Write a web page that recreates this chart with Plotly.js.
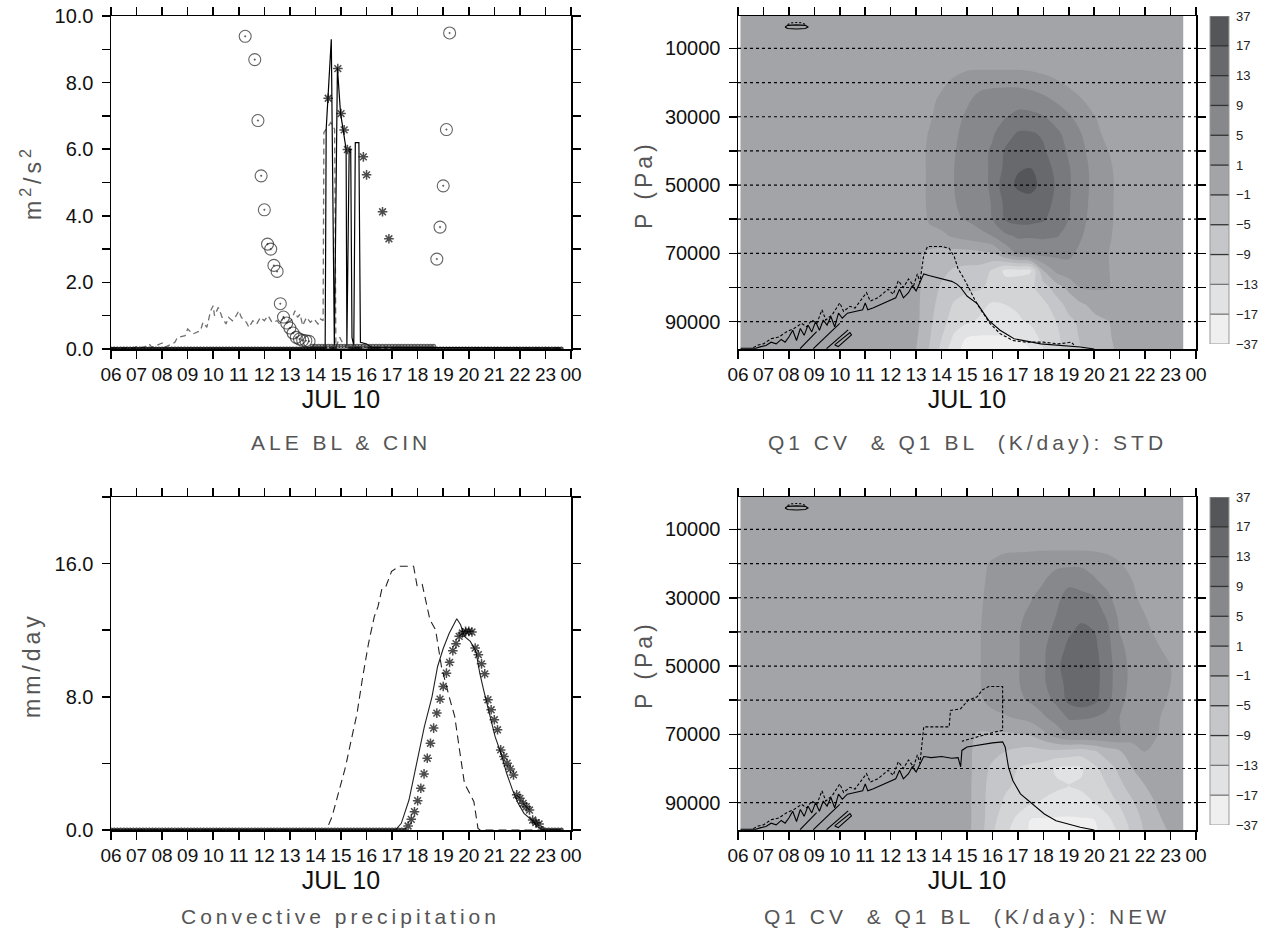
<!DOCTYPE html>
<html>
<head>
<meta charset="utf-8">
<script src="https://cdn.plot.ly/plotly-3.0.1.min.js"></script>
<style>
  html, body { margin: 0; padding: 0; background: #fff; }
  #chart { width: 1267px; height: 941px; }
  .annotation-text { letter-spacing: 4px; }
</style>
</head>
<body>
<div id="chart"></div>
<script>
// hours on the time axis
const hourTicks  = [6, 7, 8, 9, 10, 11, 12, 13, 14, 15, 16, 17, 18, 19, 20, 21, 22, 23, 24];
const hourLabels = ['06','07','08','09','10','11','12','13','14','15','16','17','18','19','20','21','22','23','00'];

// marker series are sampled every 7.5 min from 06:00
const tStart = 6, tStep = 0.125;

// ALE BL (stars), one value per step
const aleStars = [
  0,0,0,0,0,0,0,0,  0,0,0,0,0,0,0,0,  0,0,0,0,0,0,0,0,  0,0,0,0,0,0,0,0,
  0,0,0,0,0,0,0,0,  0,0,0,0,0,0,0,0,  0,0,0,0,0,0,0,0,  0,0,0,0,0,0,0,0,
  0,0,0,0,7.53,0,0,8.42,  7.07,6.58,5.99,0,0,0,0,5.77,  5.23,0,0,0,0,4.12,0,3.31,
  0,0,0,0,0,0,0,0,  0,0,0,0,0,0,0,0,  0,0,0,0,0,0,0,0,  0,0,0,0,0,0,0,0,
  0,0,0,0,0,0,0,0,  0,0,0,0,0,0,0,0,  0,0,0,0,0,0
];
// CIN (circles), null = off the chart
const cinCircles = [
  null,null,null,null,null,null,null,null,  null,null,null,null,null,null,null,null,
  null,null,null,null,null,null,null,null,  null,null,null,null,null,null,null,null,
  null,null,null,null,null,null,null,null,
  null,null,9.39,null,null,8.69,6.86,5.20,  4.18,3.15,3.00,2.51,2.33,1.36,0.96,0.78,
  0.63,0.48,0.35,0.30,0.26,0.25,0.23,0.08,
  0.08,0.08,0.08,0.08,0.08,0.08,0.08,0.08,  0.08,0.08,0.08,0.08,0.08,0.08,0.08,0.08,
  0.08,0.08,0.08,0.08,0.08,0.08,0.08,0.08,  0.08,0.08,0.08,0.08,0.08,0.08,0.08,0.08,
  0.08,0.08,0.08,0.08,0.08,0.08,2.70,3.66,  4.90,6.59,9.49,null,null,null,null,null,
  null,null,null,null,null,null,null,null,  null,null,null,null,null,null,null,null,
  null,null,null,null,null,null,null,null,  null,null,null,null,null,null
];
// ALE lines
const aleSolidT = [6.0, 14.38, 14.42, 14.62, 14.74, 14.86, 14.98, 15.1, 15.2, 15.23, 15.32, 15.38, 15.43, 15.5, 15.56, 15.7, 15.76, 16.0, 16.2, 23.6];
const aleSolidV = [0.03, 0.03, 6.6, 9.3, 0.1, 8.45, 7.1, 6.55, 6.0, 0.1, 6.0, 6.0, 0.35, 0.1, 6.2, 6.2, 0.2, 0.15, 0.05, 0.03];
const aleDashT = [6.0, 6.9, 7.0, 7.25, 7.5, 7.6, 8.0, 8.1, 8.5, 8.6, 8.9, 9.0, 9.2, 9.5, 9.6, 9.75, 9.9, 10.0, 10.05, 10.2,
  10.35, 10.5, 10.6, 10.75, 10.9, 11.0, 11.1, 11.3, 11.4, 11.55, 11.7, 11.85, 12.0, 12.15, 12.3, 12.5, 12.6, 12.75, 12.9, 13.05,
  13.2, 13.3, 13.4, 13.5, 13.65, 13.8, 13.95, 14.1, 14.2, 14.3, 14.33, 14.6, 14.75, 14.8, 14.95, 15.05, 15.2, 16.0, 23.6];
const aleDashV = [0.03, 0.03, 0.08, 0.04, 0.15, 0.05, 0.18, 0.05, 0.2, 0.35, 0.4, 0.6, 0.45, 0.55, 0.8, 0.65, 1.15, 1.3, 1.0, 1.25,
  0.95, 0.75, 0.95, 0.85, 1.0, 1.15, 0.95, 0.8, 0.65, 0.85, 0.75, 0.95, 0.85, 1.0, 0.8, 0.85, 0.75, 0.95, 0.8, 0.85,
  1.15, 0.95, 1.05, 0.7, 0.95, 0.8, 0.9, 0.75, 0.9, 0.85, 6.5, 6.8, 6.6, 0.05, 0.35, 0.2, 0.05, 0.05, 0.03];

// convective precipitation (mm/day)
const precipStars = [
  0,0,0,0,0,0,0,0,  0,0,0,0,0,0,0,0,  0,0,0,0,0,0,0,0,  0,0,0,0,0,0,0,0,
  0,0,0,0,0,0,0,0,  0,0,0,0,0,0,0,0,  0,0,0,0,0,0,0,0,  0,0,0,0,0,0,0,0,
  0,0,0,0,0,0,0,0,  0,0,0,0,0,0,0,0,  0,0,0,0,0,0,0,0,
  0,0,0,0,0,0.24,0.64,1.10,  1.76,2.51,3.37,4.31,5.21,6.12,7.02,7.86,
  8.62,9.42,10.07,10.77,11.19,11.63,11.83,11.93,  11.93,11.89,10.93,10.53,9.98,9.38,7.82,7.22,
  6.62,6.02,4.81,4.41,4.01,3.67,3.31,2.11,  1.90,1.60,1.40,1.20,0.60,0.44,0.36,0.10,
  0,0,0,0,0,0
];
const precipDashT = [6.0, 14.43, 14.65, 14.9, 15.18, 15.4, 15.63, 15.85, 16.08, 16.3, 16.45, 16.6, 16.75, 16.98, 17.28,
  17.84, 17.98, 18.18, 18.48, 18.7, 18.93, 19.23, 19.45, 19.6, 19.83, 20.2, 20.36, 20.45, 23.6];
const precipDashV = [0, 0, 0.8, 2.2, 3.81, 5.4, 7.02, 9.2, 11.23, 12.8, 13.43, 14.48, 14.6, 15.54, 15.84,
  15.84, 14.64, 14.74, 12.63, 12.03, 9.82, 8.02, 6.82, 5.21, 2.81, 1.7, 0.1, 0, 0];
const precipSolidT = [6.0, 17.13, 17.36, 17.66, 17.96, 18.26, 18.56, 18.78, 19.0, 19.23, 19.53, 19.68, 19.83, 20.06,
  20.28, 20.43, 20.58, 20.81, 21.03, 21.26, 21.48, 21.71, 21.93, 22.16, 22.46, 22.68, 22.9, 23.6];
const precipSolidV = [0, 0, 0.4, 1.8, 4.0, 6.2, 8.0, 9.82, 10.9, 11.8, 12.69, 12.33, 11.63, 11.33,
  10.73, 9.42, 8.42, 7.02, 5.61, 4.61, 3.41, 2.41, 1.6, 1.0, 0.6, 0.2, 0, 0];

// Q1 CV (K/day) on pressure levels
const presLevels = [0, 10000, 15000, 20000, 25000, 30000, 35000, 40000, 45000, 50000,
  55000, 60000, 65000, 70000, 75000, 80000, 85000, 90000, 95000, 98000];
const q1StdT = [6.1, 12.5, 13, 13.5, 14, 14.5, 15, 15.5, 16, 16.5, 17, 17.5, 18, 18.5, 19, 19.5, 20, 20.5, 21, 21.5, 23.5];
const q1Std = [
  [0,0,0,0,0,0,0,0,0,0,0,0,0,0,0,0,0,0,0,0,0],
  [0,0,0,0,0,0,0,0,0,0,0,0,0,0,0,0,0,0,0,0,0],
  [0,0,0,0,0,0,0.3,0.5,0.5,0.5,0.5,0.4,0.2,0,0,0,0,0,0,0,0],
  [0,0,0,0,0.5,2,4,4,4,4,4,3.5,2.5,1.5,0.6,0,0,0,0,0,0],
  [0,0,0,0.3,2,3.5,4.5,6,7,7.5,7.5,7,6,4.5,3,1.2,0.3,0,0,0,0],
  [0,0,0,0.7,2.5,4,5.5,7,8,8.8,10,10,9.2,7.5,5.5,3.5,1.2,0.3,0,0,0],
  [0,0,0,1.2,3,4.5,6,7.5,8.6,11,13.5,13.5,12.5,10,7.5,5,2,0.6,0,0,0],
  [0,0,0.2,1.5,3.2,4.8,6.5,7.8,9.5,13.5,15,15,13.5,11,8.5,6,3,1.2,0.3,0,0],
  [0,0,0.2,1.5,3.2,5,6.5,8,9.5,14,16.8,17,15,12,9.3,6.5,3.8,1.8,0.5,0,0],
  [0,0,0.2,1.5,3.2,5,6.5,8,9.5,16,19,19.5,16.5,12.5,9.5,6.5,4,2,0.6,0,0],
  [0,0,0.2,1.5,3,4.8,6.3,7.8,9.2,14,16,16.5,15,12,9.3,6.3,3.8,1.8,0.6,0,0],
  [0,0,0.2,1.2,2.5,4.5,5.3,7,9,13.3,14.5,14.5,13.5,11,9,6,3.5,1.8,0.6,0,0],
  [0,0,0,0.7,0.6,1.5,2.5,3.5,5,8,9.5,9.3,9.5,9.2,8,5.2,3,1.5,0.6,0,0],
  [0,0,-0.5,-2,-2.5,-2.5,-2.5,-2,-1.2,1.5,5.5,6.5,6.5,6,5.8,4,2.5,1.2,0.4,0,0],
  [0,0,-0.5,-2.5,-4,-5.5,-6,-6.5,-9.5,-14,-14,-13.5,-1,2,3.5,3,2,1.2,0.6,0,0],
  [0,0,-0.5,-3,-5.5,-7,-8,-8.5,-10,-11,-11,-10,-7,-3,-0.5,1.3,1.5,1.2,0.6,0,0],
  [0,0,-0.5,-3.5,-6.5,-9.5,-11,-12,-13.5,-13,-12.5,-12,-10,-7,-3.5,-1.5,-0.5,0,0,0,0],
  [0,0,-0.5,-4,-7.5,-11,-12.5,-13.5,-14,-14,-13.5,-12.5,-11,-9,-6,-4,-2,-1.2,-0.5,0,0],
  [0,0,-0.8,-4.5,-9,-14,-19,-21,-21,-20,-18,-15,-12,-10,-7,-4.5,-2.5,-1.5,-0.6,0,0],
  [0,0,-1,-5,-10,-16,-22,-24,-24,-23,-20,-17,-13,-10,-7,-5,-2.5,-1.5,-0.8,-0.3,0]
];
const q1NewT = [6.1, 14.5, 15, 15.5, 16, 16.5, 17, 17.5, 18, 18.5, 19, 19.5, 20, 20.5, 21, 21.5, 22, 22.5, 23, 23.5];
const q1New = [
  [0,0,0,0,0,0,0,0,0,0,0,0,0,0,0,0,0,0,0,0],
  [0,0,0,0,0,0,0,0,0,0,0,0,0,0,0,0,0,0,0,0],
  [0,0,0,0,0.2,0.5,0.5,0.5,0.5,0.5,0.5,0.5,0.5,0.4,0.2,0,0,0,0,0],
  [0,0,0,0.5,1.5,2.5,3,3.5,4,4.2,4.2,4.2,3.5,2.5,1.2,0.5,0,0,0,0],
  [0,0,0,0.6,2,3,3.8,4.3,4.8,6.5,8,7.5,5.5,3.8,2,1,0.4,0,0,0],
  [0,0,0,0.7,2.5,3.5,4.2,4.8,6,8,10.5,10,9.5,6,3,1.5,0.6,0.2,0,0],
  [0,0,0.2,0.8,2.8,3.8,4.5,5.5,7.5,9,11.5,12,11,8.5,4,2,1,0.4,0,0],
  [0,0,0.2,0.9,3,4,4.8,6,8,9.8,12.5,14,13,10,5,2.8,1.5,0.8,0.3,0],
  [0,0,0.2,0.9,3,4,4.8,6.2,8.5,11,14,15.5,14,10.5,6,3.5,2,1.2,0.7,0.2],
  [0,0,0.2,0.9,3,4,4.8,6.3,8.5,11.5,16,18,14.5,11,6.5,4,2.5,1.5,1,0.3],
  [0,0,0.2,0.9,3,4,4.8,6.2,8.5,11,14.5,16,14.5,11,6.5,4,2.5,1.5,1,0.3],
  [0,0,0.2,0.8,2,3,4.2,5.5,7,10,14,15.5,14,10.5,6,3.5,2.3,1.4,0.9,0.3],
  [0,0,0,0.3,0.5,0.8,1.5,2.5,4.5,6.5,9.5,9.5,9,8,5,3,2,1.2,0.6,0.2],
  [0,0,-0.5,-1.5,-1.5,-1.5,-1.2,-0.8,0.5,3,5.5,5.5,5.5,5.2,5,2,1.5,1,0.5,0.1],
  [0,0,-0.5,-2.5,-3.5,-5,-6,-6.5,-6,-6,-6.5,-7,-5.5,-3,-1.5,0.5,1,0.5,0.2,0],
  [0,0,-0.5,-2.5,-6,-7.5,-9,-10,-11,-13.5,-14,-13.5,-10,-7,-4,-1,0.5,0.3,0,0],
  [0,0,-0.5,-3,-7,-8.5,-9.5,-10.5,-11.5,-12.5,-13,-12.5,-11,-9,-6,-3,-1,-0.3,0,0],
  [0,0,-0.5,-3,-7.5,-9.5,-11,-12.5,-13.5,-14,-14.5,-14,-13,-11,-8.5,-5.5,-2.5,-0.8,0,0],
  [0,0,-0.5,-3,-8,-11,-14,-17.5,-19,-20,-20,-19,-17,-14,-11,-7,-4,-1.5,-0.5,0],
  [0,0,-0.5,-3.2,-8.5,-12,-15,-19,-22,-24,-24,-22,-19.5,-15.5,-12,-8,-4.5,-2,-0.8,-0.2]
];
const shadeLevels = [-37, -17, -13, -9, -5, -1, 1, 5, 9, 13, 17, 37];
const shadeLabels = ['\u221237','\u221217','\u221213','\u22129','\u22125','\u22121','1','5','9','13','17','37'];
const shadeColors = ['#efeff0','#e1e2e4','#d3d4d6','#c5c6c9','#b6b7ba','#a3a4a8','#96979b','#87888c','#78797d','#68696d','#555659'];
const shadeBins = [0, 1, 2, 3, 4, 5, 6, 7, 8, 9, 10];

// Q1 BL contour lines (time h, pressure Pa)
const blRiseT = [6.1, 6.7, 6.9, 7.1, 7.3, 7.5, 7.7, 7.85, 8.0, 8.15, 8.3, 8.45, 8.6, 8.75, 8.9, 9.05, 9.2, 9.35, 9.5, 9.65,
  9.8, 9.95, 10.1, 10.3, 10.6, 10.9, 11.0, 11.1, 11.3, 11.6, 11.9, 12.2, 12.35, 12.5, 12.7, 12.85, 13.0, 13.15];
const blRiseP = [97800, 97800, 97300, 97000, 96000, 96500, 95200, 96000, 94500, 92500, 95500, 92000, 94000, 91000, 93000, 90000, 92500, 89500, 91000, 88500,
  91500, 87500, 89000, 87500, 87000, 86500, 84500, 86500, 86000, 85000, 84000, 83000, 80500, 83000, 81500, 79500, 81000, 78500];
const blRiseDashT = [6.6, 6.8, 7.0, 7.3, 7.6, 7.9, 8.2, 8.5, 8.7, 8.9, 9.1, 9.3, 9.45, 9.7, 10.0, 10.15, 10.4, 10.6, 10.8, 11.05,
  11.2, 11.5, 11.9, 12.1, 12.3, 12.5, 12.7, 12.9, 13.05, 13.15];
const blRiseDashP = [97600, 96800, 96500, 95000, 94500, 93000, 92000, 90500, 91500, 89500, 90500, 86500, 89500, 88000, 84500, 87000, 85500, 86000, 84000, 81500,
  84000, 83000, 80500, 82000, 78000, 80000, 77500, 79500, 76000, 78500];
const blStdSolidT = [13.3, 13.5, 13.8, 14.1, 14.4, 14.6, 14.75, 15.0, 15.4, 15.85, 16.3, 16.85, 17.9, 19.45, 20.0];
const blStdSolidP = [76000, 76500, 77000, 77500, 78200, 79000, 80000, 82500, 84700, 89600, 92500, 95000, 96500, 97400, 98000];
const blStdDashT = [13.3, 13.45, 14.0, 14.3, 14.5, 14.65, 14.85, 15.0, 15.1, 15.3, 15.5, 15.9, 16.3, 16.8, 17.3, 18.0, 18.6, 19.1, 19.2];
const blStdDashP = [70500, 68000, 68000, 68500, 71000, 74500, 77000, 79000, 80500, 83500, 86000, 90500, 93500, 95500, 96000, 96000, 96500, 96000, 96800];
const blNewSolidT = [13.3, 13.6, 14.0, 14.4, 14.65, 14.75, 14.8, 15.0, 15.5, 16.0, 16.4, 16.5, 16.63, 16.8, 17.1, 17.57, 18.04, 18.5, 19.45, 20.0];
const blNewSolidP = [76500, 76800, 76500, 77000, 76800, 79500, 74700, 73700, 73000, 72500, 72200, 73700, 79600, 83500, 87400, 90400, 93300, 95300, 97200, 98000];
const blNewDashT = [13.3, 14.3, 14.35, 14.75, 15.05, 15.4, 15.6, 15.85, 16.4, 16.4, 16.0, 15.4, 15.05, 14.8];
const blNewDashP = [67800, 67800, 63000, 62500, 60000, 59000, 57000, 56000, 56000, 68800, 69500, 70700, 71500, 72000];
const blLoopsT = [8.44, 9.09, null, 8.96, 10.0, null, 9.48, 10.33, null, 9.8, 10.4, 10.46, 9.94, 9.8];
const blLoopsP = [97900, 92900, null, 97900, 90500, null, 97900, 92400, null, 96800, 93200, 93900, 97300, 96800];
const ringT = [7.85, 7.95, 8.3, 8.65, 8.75, 8.65, 8.3, 7.95, 7.85];
const ringP = [3700, 3250, 3100, 3250, 3700, 4150, 4300, 4150, 3700];
const ringDashT = [7.95, 8.1, 8.3, 8.5, 8.65];
const ringDashP = [3000, 2500, 2400, 2500, 3000];

// axis ticks: labelled and unlabelled positions
const aleTicks = [0, 2, 4, 6, 8, 10], aleLabels = ['0.0', '2.0', '4.0', '6.0', '8.0', '10.0'], aleMinor = [1, 3, 5, 7, 9];
const precipTicks = [0, 8, 16], precipLabels = ['0.0', '8.0', '16.0'], precipMinor = [4, 12, 20];
const pTicks  = [10000, 30000, 50000, 70000, 90000];
const pLabels = ['10000', '30000', '50000', '70000', '90000'];
const pMinor  = [20000, 40000, 60000, 80000];
const pGrid   = [10000, 20000, 30000, 40000, 50000, 60000, 70000, 80000, 90000];

const FONT = 'Liberation Sans, Arial, sans-serif';
const W = 1267, H = 941;

// panel frames in pixels
const leftX = [111 / W, 571 / W];
const rightX = [738 / W, 1196 / W];
const topY = [1 - 349 / H, 1 - 16 / H];
const botY = [1 - 830 / H, 1 - 497 / H];
const barX = [1210 / W, 1229 / W];
const topBarY = [1 - 344 / H, 1 - 16 / H];
const botBarY = [1 - 825 / H, 1 - 497 / H];

const timeGrid = aleStars.map((_, i) => tStart + i * tStep);
const sizes = (vals, big) => vals.map(v => v === null ? 0 : (v < 0.15 ? 4 : big));

// map K/day onto the equal-height shading bins
function toBin(v) {
  const L = shadeLevels;
  if (v <= L[0]) return 0;
  for (let k = 0; k < L.length - 1; k++) {
    if (v <= L[k + 1]) return k + (v - L[k]) / (L[k + 1] - L[k]);
  }
  return L.length - 1;
}
const binScale = shadeColors.map((c, i) => [i / (shadeColors.length - 1), c]);

function shadeTrace(xs, grid, xa, ya) {
  return {
    type: 'contour', x: xs, y: presLevels, z: grid.map(r => r.map(toBin)),
    xaxis: xa, yaxis: ya, autocontour: false,
    contours: { start: 1, end: 10, size: 1, coloring: 'fill', showlines: false },
    line: { width: 0, smoothing: 1 },
    colorscale: binScale, showscale: false, hoverinfo: 'skip'
  };
}

// the colour key, drawn as a one-column heatmap of the bins
function keyTrace(xa, ya) {
  return {
    type: 'heatmap', x: [0], y: shadeBins.map(b => b + 0.5), z: shadeBins.map(b => [b]),
    xaxis: xa, yaxis: ya, zmin: 0, zmax: shadeBins.length - 1,
    colorscale: binScale, showscale: false, hoverinfo: 'skip'
  };
}

function lineTrace(xs, ys, xa, ya, dash, color, width) {
  return {
    type: 'scatter', mode: 'lines', x: xs, y: ys, xaxis: xa, yaxis: ya,
    line: { color: color || '#000', width: width || 1.1, dash: dash || 'solid' },
    connectgaps: false, hoverinfo: 'skip', showlegend: false
  };
}

const data = [
  // ALE BL & CIN
  lineTrace(aleDashT, aleDashV, 'x', 'y', '6px,4px', '#707070', 1.3),
  lineTrace(aleSolidT, aleSolidV, 'x', 'y', 'solid', '#000', 1.2),
  { type: 'scatter', mode: 'markers', x: timeGrid, y: cinCircles, xaxis: 'x', yaxis: 'y',
    marker: { symbol: 'circle-open-dot', size: sizes(cinCircles, 12), color: '#222', line: { width: 1.1, color: '#222' } },
    hoverinfo: 'skip', showlegend: false },
  { type: 'scatter', mode: 'markers', x: timeGrid, y: aleStars, xaxis: 'x', yaxis: 'y',
    marker: { symbol: 'asterisk-open', size: sizes(aleStars, 8), color: '#000', line: { width: 1.5, color: '#000' } },
    hoverinfo: 'skip', showlegend: false },

  // convective precipitation
  lineTrace(precipDashT, precipDashV, 'x3', 'y3', '8px,5px', '#222', 1.1),
  lineTrace(precipSolidT, precipSolidV, 'x3', 'y3', 'solid', '#222', 1.1),
  { type: 'scatter', mode: 'markers', x: timeGrid, y: precipStars, xaxis: 'x3', yaxis: 'y3',
    marker: { symbol: 'asterisk-open', size: sizes(precipStars, 8), color: '#000', line: { width: 1.5, color: '#000' } },
    hoverinfo: 'skip', showlegend: false },

  // Q1 CV shading and colour keys
  shadeTrace(q1StdT, q1Std, 'x2', 'y2'),
  shadeTrace(q1NewT, q1New, 'x4', 'y4'),
  keyTrace('x5', 'y5'),
  keyTrace('x6', 'y6'),

  // Q1 BL lines, STD
  lineTrace(blRiseT.concat(blStdSolidT), blRiseP.concat(blStdSolidP), 'x2', 'y2'),
  lineTrace(blRiseDashT.concat(blStdDashT), blRiseDashP.concat(blStdDashP), 'x2', 'y2', '3px,2px'),
  lineTrace(blLoopsT, blLoopsP, 'x2', 'y2'),
  lineTrace(ringT, ringP, 'x2', 'y2'),
  lineTrace(ringDashT, ringDashP, 'x2', 'y2', '2px,2px'),

  // Q1 BL lines, NEW
  lineTrace(blRiseT.concat(blNewSolidT), blRiseP.concat(blNewSolidP), 'x4', 'y4'),
  lineTrace(blRiseDashT.concat(blNewDashT), blRiseDashP.concat(blNewDashP), 'x4', 'y4', '3px,2px'),
  lineTrace(blLoopsT, blLoopsP, 'x4', 'y4'),
  lineTrace(ringT, ringP, 'x4', 'y4'),
  lineTrace(ringDashT, ringDashP, 'x4', 'y4', '2px,2px')
];

function hourAxis(domain, anchor) {
  return {
    domain, anchor, range: [6, 24], tickvals: hourTicks, ticktext: hourLabels, tickangle: 0,
    ticks: 'outside', ticklen: 8, tickwidth: 1.5, tickcolor: '#000',
    showline: true, linewidth: 1.5, linecolor: '#000', mirror: 'ticks',
    showgrid: false, zeroline: false,
    tickfont: { family: FONT, size: 19, color: '#111' },
    title: { text: 'JUL 10', font: { family: FONT, size: 25, color: '#111' }, standoff: 5 }
  };
}

function valueAxis(domain, anchor, range, vals, labels, minorVals) {
  return {
    domain, anchor, range, tickvals: vals, ticktext: labels,
    ticks: 'outside', ticklen: 8, tickwidth: 1.5, tickcolor: '#000',
    minor: { tickmode: 'array', tickvals: minorVals, ticks: 'outside', ticklen: 8, tickwidth: 1.5, tickcolor: '#000', showgrid: false },
    showline: true, linewidth: 1.5, linecolor: '#000', mirror: 'ticks',
    showgrid: false, zeroline: false, ticklabelstandoff: 4,
    tickfont: { family: FONT, size: 20, color: '#111' }
  };
}

function keyXAxis(anchor) {
  return { domain: barX, anchor, range: [-0.5, 0.5], visible: false, fixedrange: true };
}
function keyYAxis(domain, anchor) {
  return {
    domain, anchor, side: 'right', range: [0, shadeBins.length],
    tickvals: shadeLevels.map((_, i) => i), ticktext: shadeLabels,
    ticks: '', showline: false, showgrid: false, zeroline: false, ticklabelstandoff: 6,
    tickfont: { family: FONT, size: 13, color: '#222' }
  };
}

const shapes = [];
// dotted pressure lines over the shading
[['x2', 'y2'], ['x4', 'y4']].forEach(([xa, ya]) => {
  pGrid.forEach(p => shapes.push({
    type: 'line', xref: xa + ' domain', x0: 0, x1: 1, yref: ya, y0: p, y1: p,
    line: { color: '#000', width: 1.2, dash: 'dot' }, layer: 'above'
  }));
});
// bin separators and outline of the colour keys
[['x5', 'y5'], ['x6', 'y6']].forEach(([xa, ya]) => {
  shadeBins.slice(1).forEach(b => shapes.push({
    type: 'line', xref: xa + ' domain', x0: 0, x1: 1, yref: ya, y0: b, y1: b,
    line: { color: b < 3 ? '#777' : '#333', width: 1.3 }, layer: 'above'
  }));
  shapes.push({
    type: 'rect', xref: xa + ' domain', x0: 0, x1: 1, yref: ya, y0: 0, y1: shadeBins.length,
    line: { color: '#999', width: 1 }, layer: 'above'
  });
});

const capFont = { family: FONT, size: 21, color: '#555' };
const sideFont = { family: FONT, size: 23, color: '#555' };
const note = (text, x, y, extra) => Object.assign({
  text, x, y, xref: 'paper', yref: 'paper', showarrow: false,
  xanchor: 'center', yanchor: 'middle', font: capFont
}, extra || {});

const layout = {
  width: W, height: H,
  margin: { l: 0, r: 0, t: 0, b: 0 },
  paper_bgcolor: '#fff', plot_bgcolor: '#fff',
  showlegend: false,
  xaxis: hourAxis(leftX, 'y'),
  yaxis: valueAxis(topY, 'x', [0, 10], aleTicks, aleLabels, aleMinor),
  xaxis2: hourAxis(rightX, 'y2'),
  yaxis2: valueAxis(topY, 'x2', [98000, 500], pTicks, pLabels, pMinor),
  xaxis3: hourAxis(leftX, 'y3'),
  yaxis3: valueAxis(botY, 'x3', [0, 20], precipTicks, precipLabels, precipMinor),
  xaxis4: hourAxis(rightX, 'y4'),
  yaxis4: valueAxis(botY, 'x4', [98000, 500], pTicks, pLabels, pMinor),
  xaxis5: keyXAxis('y5'),
  yaxis5: keyYAxis(topBarY, 'x5'),
  xaxis6: keyXAxis('y6'),
  yaxis6: keyYAxis(botBarY, 'x6'),
  shapes,
  annotations: [
    note('ALE BL &amp; CIN', (leftX[0] + leftX[1]) / 2, 1 - 443 / H),
    note('Convective precipitation', (leftX[0] + leftX[1]) / 2, 1 - 916 / H),
    note('Q1 CV&nbsp;&nbsp;&amp; Q1 BL&nbsp;&nbsp;(K/day): STD', (rightX[0] + rightX[1]) / 2, 1 - 443 / H),
    note('Q1 CV&nbsp;&nbsp;&amp; Q1 BL&nbsp;&nbsp;(K/day): NEW', (rightX[0] + rightX[1]) / 2, 1 - 916 / H),
    note('m<sup>2</sup>/s<sup>2</sup>', 31 / W, 1 - 183 / H, { textangle: -90, font: sideFont }),
    note('mm/day', 32 / W, 1 - 665 / H, { textangle: -90, font: sideFont }),
    note('P (Pa)', 644 / W, 1 - 185 / H, { textangle: -90, font: sideFont }),
    note('P (Pa)', 644 / W, 1 - 665 / H, { textangle: -90, font: sideFont })
  ]
};

Plotly.newPlot('chart', data, layout, { staticPlot: true, displayModeBar: false });
</script>
</body>
</html>
